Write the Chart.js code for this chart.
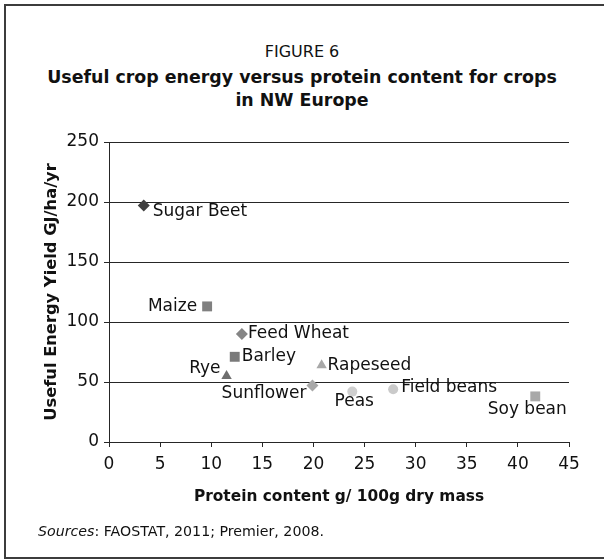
<!DOCTYPE html>
<html>
<head>
<meta charset="utf-8">
<script src="https://cdn.jsdelivr.net/npm/chart.js@4.4.0/dist/chart.umd.min.js"></script>
<style>
  html, body { margin: 0; padding: 0; background: #fff; }
  body { width: 604px; height: 559px; position: relative; overflow: hidden; font-family: "DejaVu Sans", sans-serif; color: #111; }
  #cadre { position: absolute; left: 4px; top: 4px; width: 640px; height: 551px; border: 2px solid #3c3c3c; }
  .titre { position: absolute; left: 0; width: 604px; text-align: center; line-height: 23px; }
  #t1 { top: 40px; font-size: 16px; }
  #t2 { top: 66px; font-size: 17.4px; font-weight: bold; }
  #sources { position: absolute; left: 38px; top: 521px; font-size: 14.2px; line-height: 20px; }
  #grafic { position: absolute; left: 0; top: 0; }
</style>
</head>
<body>
<div id="cadre"></div>
<div class="titre" id="t1">FIGURE 6</div>
<div class="titre" id="t2">Useful crop energy versus protein content for crops<br>in NW Europe</div>
<canvas id="grafic" width="604" height="559"></canvas>
<div id="sources"><em>Sources</em>: FAOSTAT, 2011; Premier, 2008.</div>
<script>
// dades llegides del gràfic
const crops   = ['Sugar Beet', 'Maize', 'Feed Wheat', 'Barley', 'Rye', 'Rapeseed', 'Sunflower', 'Peas', 'Field beans', 'Soy bean'];
const protein = [3.4, 9.6, 13.0, 12.3, 11.5, 20.8, 19.9, 23.8, 27.8, 41.7];
const energy  = [197, 113, 90, 71, 55, 64, 47, 42, 44, 38];
const xTicks  = [0, 5, 10, 15, 20, 25, 30, 35, 40, 45];
const yTicks  = [0, 50, 100, 150, 200, 250];

// estil dels marcadors
const markers = ['rectRot', 'rect', 'rectRot', 'rect', 'triangle', 'triangle', 'rectRot', 'circle', 'circle', 'rect'];
const colors  = ['#404040', '#808080', '#858585', '#7a7a7a', '#6e6e6e', '#a8a8a8', '#a8a8a8', '#cfcfcf', '#cacaca', '#a8a8a8'];
const radii   = { rectRot: 6, rect: 7, triangle: 6, circle: 5 };

// posició de cada etiqueta respecte al punt
const etiquetes = {
  'Sugar Beet':  { dx: 9,  dy: 6,  align: 'left' },
  'Maize':       { dx: -10, dy: 0, align: 'right' },
  'Feed Wheat':  { dx: 6,  dy: 0,  align: 'left' },
  'Barley':      { dx: 7,  dy: 0,  align: 'left' },
  'Rye':         { dx: -6, dy: -7, align: 'right' },
  'Rapeseed':    { dx: 6,  dy: 0,  align: 'left' },
  'Sunflower':   { dx: -6, dy: 8,  align: 'right' },
  'Peas':        { dx: 2,  dy: 10, align: 'center' },
  'Field beans': { dx: 8,  dy: -2, align: 'left' },
  'Soy bean':    { dx: -8, dy: 13, align: 'center' },
};

const FONT = '"DejaVu Sans", sans-serif';
const TEXT = '#111';

const datasets = crops.map((c, i) => ({
  label: c,
  data: [{ x: protein[i], y: energy[i] }],
  pointStyle: markers[i],
  radius: radii[markers[i]],
  backgroundColor: colors[i],
  borderColor: colors[i],
  borderWidth: 0,
}));

new Chart(document.getElementById('grafic'), {
  type: 'scatter',
  data: { datasets },
  options: {
    animation: false,
    responsive: false,
    layout: { padding: { top: 142, right: 35, left: 0, bottom: 53 } },
    plugins: { legend: { display: false }, tooltip: { enabled: false } },
    scales: {
      x: {
        type: 'linear', min: 0, max: 45,
        afterBuildTicks: s => { s.ticks = xTicks.map(v => ({ value: v })); },
        afterFit: s => { s.height = 64; },
        grid: { drawOnChartArea: false, tickLength: 5, color: '#262626' },
        border: { color: '#262626', width: 1 },
        ticks: { color: TEXT, padding: 7, font: { family: FONT, size: 17 }, maxRotation: 0 },
        title: { display: true, text: 'Protein content g/ 100g dry mass', color: TEXT,
                 padding: { top: 0, bottom: 0 }, font: { family: FONT, size: 15.4, weight: 'bold' } }
      },
      y: {
        type: 'linear', min: 0, max: 250,
        afterBuildTicks: s => { s.ticks = yTicks.map(v => ({ value: v })); },
        afterFit: s => { s.width = 109; },
        grid: { color: '#262626', tickLength: 5 },
        border: { color: '#262626', width: 1 },
        ticks: { color: TEXT, padding: 5, font: { family: FONT, size: 17 } },
        title: { display: true, text: 'Useful Energy Yield GJ/ha/yr', color: TEXT,
                 padding: { top: 42, bottom: 0 }, font: { family: FONT, size: 16.3, weight: 'bold' } }
      }
    }
  },
  plugins: [{
    id: 'etiquetes-punts',
    afterDatasetsDraw(chart) {
      const ctx = chart.ctx;
      ctx.save();
      ctx.font = '17px ' + FONT;
      ctx.fillStyle = TEXT;
      ctx.textBaseline = 'middle';
      crops.forEach((c, i) => {
        const pt = chart.getDatasetMeta(i).data[0];
        const e = etiquetes[c];
        ctx.textAlign = e.align;
        ctx.fillText(c, pt.x + e.dx, pt.y + e.dy);
      });
      ctx.restore();
    }
  }]
});
</script>
</body>
</html>
